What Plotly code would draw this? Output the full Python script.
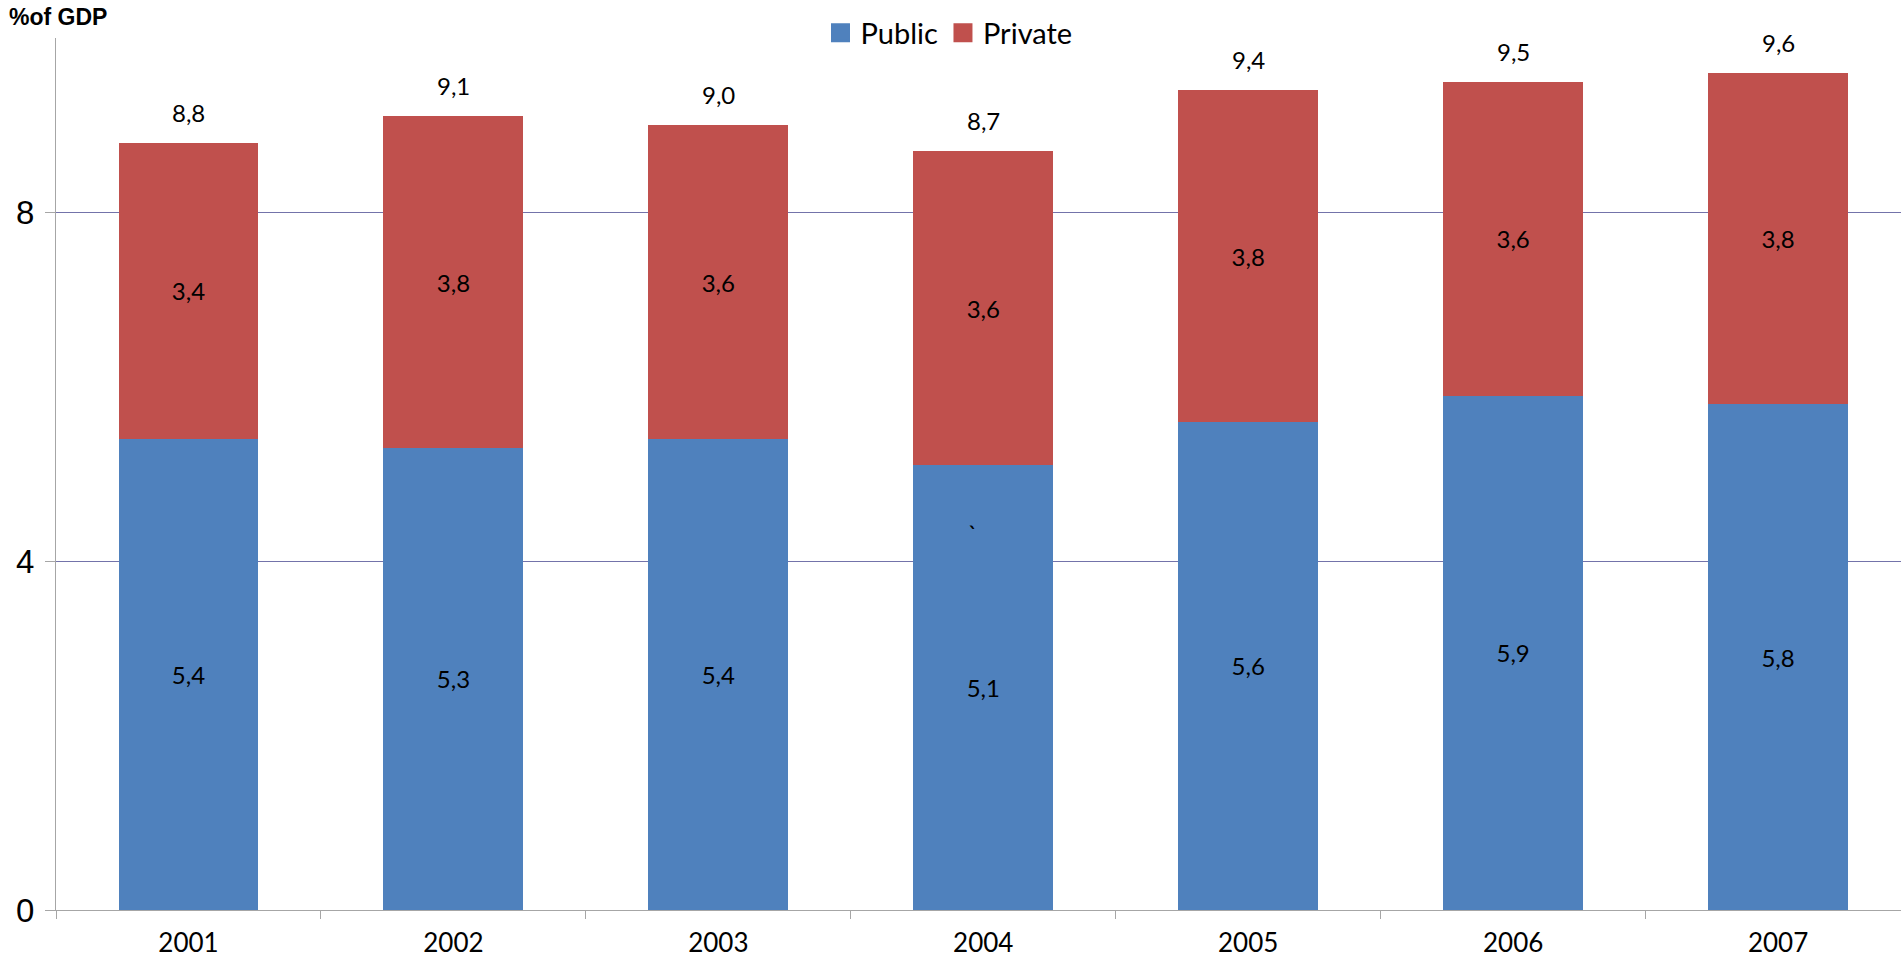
import plotly.graph_objects as go

years = ["2001", "2002", "2003", "2004", "2005", "2006", "2007"]
public = [5.4, 5.3, 5.4, 5.1, 5.6, 5.9, 5.8]
private = [3.4, 3.8, 3.6, 3.6, 3.8, 3.6, 3.8]
totals = [round(a + b, 1) for a, b in zip(public, private)]
y_ticks = [0, 4, 8]

BLUE = "#4F81BD"
RED = "#C0504D"

def fmt(v):
    return f"{v:.1f}".replace(".", ",")

FONT = "Lato, Open Sans, sans-serif"
AXFONT = "Liberation Sans, Arial, sans-serif"

fig = go.Figure()
fig.add_trace(go.Bar(
    name="Public", x=years, y=public, marker=dict(color=BLUE, line=dict(width=0)),
    text=[fmt(v) for v in public], textposition="inside", insidetextanchor="middle",
    textfont=dict(family=FONT, size=24, color="black"), textangle=0,
    width=0.528, showlegend=False,
))
fig.add_trace(go.Bar(
    name="Private", x=years, y=private, marker=dict(color=RED, line=dict(width=0)),
    text=[fmt(v) for v in private], textposition="inside", insidetextanchor="middle",
    textfont=dict(family=FONT, size=24, color="black"), textangle=0,
    width=0.528, showlegend=False,
))
# legend entries with larger square swatches
for nm, col in (("Public", BLUE), ("Private", RED)):
    fig.add_trace(go.Scatter(x=[None], y=[None], mode="markers", name=nm,
                             marker=dict(symbol="square", size=16, color=col,
                                         line=dict(color=col, width=3))))

for i, t in enumerate(totals):
    fig.add_annotation(x=i, y=t, text=fmt(t), showarrow=False, yanchor="bottom",
                       yshift=14, font=dict(family=FONT, size=24, color="black"))

# stray mark present in the original
fig.add_annotation(x=3, y=4.32, text="`", showarrow=False, xshift=-10,
                   font=dict(family=FONT, size=24, color="black"))

fig.add_annotation(xref="paper", yref="paper", x=0, y=1, xshift=-49, yshift=6,
                   xanchor="left", yanchor="bottom", text="<b>%of GDP</b>", showarrow=False,
                   font=dict(family=AXFONT, size=23, color="black"))

fig.update_layout(
    width=1901, height=964,
    margin=dict(l=56, r=0, t=38, b=54, autoexpand=False),
    paper_bgcolor="white", plot_bgcolor="white",
    barmode="stack",
    font=dict(family=FONT, color="black"),
    legend=dict(orientation="h", x=0.484, xanchor="center", y=1 - 33 / 964, yanchor="middle",
                yref="container", font=dict(family=FONT, size=29, color="black"),
                traceorder="normal", itemwidth=30),
    xaxis=dict(type="category", range=[-0.5, 6.464], showline=True, linecolor="#A6A6A6",
               linewidth=1, ticks="outside", tickson="boundaries", ticklen=8,
               tickcolor="#A6A6A6", tickfont=dict(family=FONT, size=26, color="black"),
               ticklabelstandoff=10,
               showgrid=False, automargin=False),
    yaxis=dict(range=[0, 10], tickvals=y_ticks, ticktext=[str(v) for v in y_ticks],
               showline=True, linecolor="#A6A6A6", linewidth=1, ticks="outside", ticklen=10,
               tickcolor="#A6A6A6", tickfont=dict(family=AXFONT, size=33, color="black"),
               ticklabelstandoff=4, automargin=False,
               showgrid=True, gridcolor="#7373AA", gridwidth=1, zeroline=False),
)

fig.write_html("out.html", config={"displayModeBar": False},
               post_script="document.body.style.margin='0';")
